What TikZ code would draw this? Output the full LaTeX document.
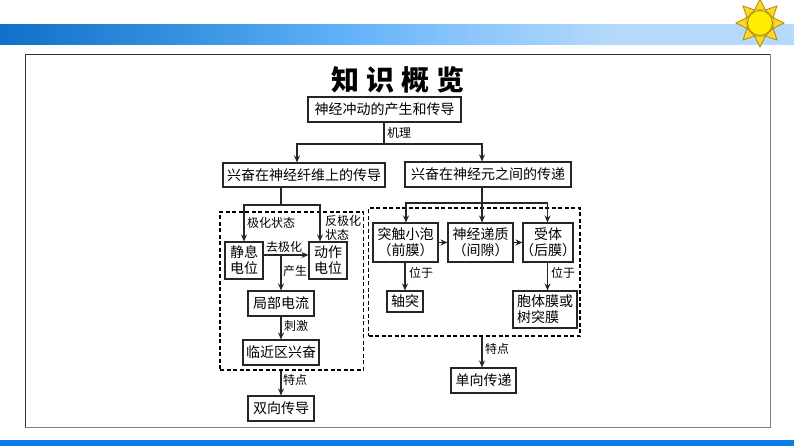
\documentclass[tikz,border=0pt]{standalone}
\usepackage{fontspec}
\setmainfont{Noto Sans CJK SC}
\usetikzlibrary{arrows.meta,shadings}
\definecolor{bandA}{HTML}{1070C8}
\definecolor{bandB}{HTML}{3A95E2}
\definecolor{bandE}{HTML}{62B2FA}
\definecolor{bandF}{HTML}{85C3FC}
\definecolor{bandC}{HTML}{B6DAFB}
\definecolor{bandD}{HTML}{0A7DE8}
\definecolor{sunedge}{HTML}{B08A00}
\definecolor{sunray}{HTML}{FFD62A}
\definecolor{sunfill}{HTML}{FFEE00}
\pgfdeclarehorizontalshading{bandshade}{100bp}{color(0bp)=(bandA); color(25bp)=(bandA); color(37.6bp)=(bandB); color(47bp)=(bandE); color(53.3bp)=(bandF); color(64bp)=(bandC); color(75bp)=(bandC); color(100bp)=(bandC)}
\tikzset{
  box/.style={draw=black!85,line width=1.1pt,inner sep=0pt,align=center,font=\fontsize{14}{16}\selectfont,fill=white},
  lab/.style={inner sep=0pt,font=\fontsize{12}{13.5}\selectfont,align=left},
  dashbox/.style={draw=black,line width=1.2pt,dash pattern=on 4pt off 2.5pt,inner sep=0pt},
  link/.style={draw=black!85,line width=1.1pt},
  arrow/.style={link,-{Stealth[length=7pt,width=6pt]}},
}
\newcommand{\bx}[6]{\node[box,minimum width=#4 pt-#2 pt,minimum height=#5 pt-#3 pt] (#1) at ({(#2+#4)/2},{(#3+#5)/2}) {#6};}
\begin{document}
\begin{tikzpicture}[x=1pt,y=-1pt]
\useasboundingbox (0,0) rectangle (794,446);
\fill[white] (0,0) rectangle (794,446);
% bands
\shade[shading=bandshade] (0,25) rectangle (794,45);
\fill[bandD] (0,440) rectangle (794,446);
% frame
\draw[black!80,line width=0.8pt] (25,427) -- (25,54) -- (770,54);
\draw[black!50,line width=1pt] (770,54) -- (770,427) -- (25,427);
% sun
\foreach \a in {0,45,...,315}{
  \draw[fill=sunray,draw=sunedge,line width=0.8pt,rotate around={\a:(760,23)}]
    (773,17.5) -- (784,23) -- (773,28.5) -- cycle;
}
\draw[fill=sunfill,draw=sunedge,line width=0.9pt] (760,23) circle (12.5);
% title
\node[inner sep=0pt,font=\fontsize{28}{28}\selectfont\bfseries] (title) at (398,80) {知\hspace{7pt}识\hspace{7pt}概\hspace{7pt}览};
% dashed frames
\node[dashbox,minimum width=143.5pt,minimum height=158pt] (ldash) at (291.75,291) {};
\node[dashbox,minimum width=211.5pt,minimum height=128pt] (rdash) at (474.25,272) {};
% boxes
\bx{root}{308}{97}{461}{122}{神经冲动的产生和传导}
\bx{lhead}{223}{163}{385}{187}{兴奋在神经纤维上的传导}
\bx{rhead}{405}{162}{571}{187}{兴奋在神经元之间的传递}
\bx{jing}{225}{242}{263}{279}{静息\\电位}
\bx{dong}{309}{242}{347}{279}{动作\\电位}
\bx{ju}{248}{291}{314}{316}{局部电流}
\bx{lin}{243}{340}{319}{365}{临近区兴奋}
\bx{shuang}{248}{396}{314}{421}{双向传导}
\bx{tu}{373}{223}{438}{262}{突触小泡\\（前膜）}
\bx{shen}{448}{223}{513}{262}{神经递质\\（间隙）}
\bx{shou}{523}{223}{573}{262}{受体\\\makebox[49pt][c]{（后膜）}}
\bx{zhou}{387}{291}{423}{312}{轴突}
\node[box,minimum width=64pt,minimum height=37pt,align=left] (bao) at (545,309.5) {胞体膜或\\树突膜};
\bx{dan}{451}{368}{516}{393}{单向传递}
% junctions
\coordinate (rootj) at (384,144);
\coordinate (lj) at (281,205);
\coordinate (rj) at (482,203);
\coordinate (chan) at (281,255);
\coordinate (lhx) at (297,144);
\coordinate (ljl) at (244,205);
\coordinate (ljr) at (320,205);
\coordinate (rjl) at (406,203);
\coordinate (rjr) at (547.5,203);
% connectors
\draw[link] (root.south -| rootj) -- (rootj);
\draw[arrow] (rootj) -- (lhx) -- (lhx |- lhead.north);
\draw[arrow] (rootj) -- (rj |- rootj) -- (rj |- rhead.north);
\draw[link] (lhead.south -| lj) -- (lj);
\draw[arrow] (lj) -- (ljl) -- (ljl |- jing.north);
\draw[arrow] (lj) -- (ljr) -- (ljr |- dong.north);
\draw[link] (rhead.south -| rj) -- (rj);
\draw[arrow] (rj) -- (rjl) -- (rjl |- tu.north);
\draw[arrow] (rj) -- (rj |- shen.north);
\draw[arrow] (rj) -- (rjr) -- (rjr |- shou.north);
\draw[arrow] (jing.east |- chan) -- (dong.west |- chan);
\draw[arrow] (chan) -- (chan |- ju.north);
\draw[arrow] (ju.south -| chan) -- (lin.north -| chan);
\draw[arrow] (ldash.south -| chan) -- (shuang.north -| chan);
\draw[arrow] (tu.east |- shen.west) -- (shen.west);
\draw[arrow] (shen.east) -- (shou.west);
\draw[arrow] (tu.south -| zhou) -- (zhou.north);
\draw[arrow] (shou.south -| rjr) -- (bao.north -| rjr);
\draw[arrow] (rdash.south -| rj) -- (dan.north -| rj);
% labels
\node[lab,anchor=west] (l1) at (387,133) {机理};
\node[lab,anchor=west] (l2) at (247,223) {极化状态};
\node[lab,anchor=west] (l3) at (325,228) {反极化\\状态};
\node[lab,anchor=west] (l4) at (266,247) {去极化};
\node[lab,anchor=west] (l5) at (283,271) {产生};
\node[lab,anchor=west] (l6) at (284,326) {刺激};
\node[lab,anchor=west] (l7) at (283,380) {特点};
\node[lab,anchor=west] (l8) at (409,273) {位于};
\node[lab,anchor=west] (l9) at (551,273) {位于};
\node[lab,anchor=west] (l10) at (485,349) {特点};
\end{tikzpicture}
\end{document}
